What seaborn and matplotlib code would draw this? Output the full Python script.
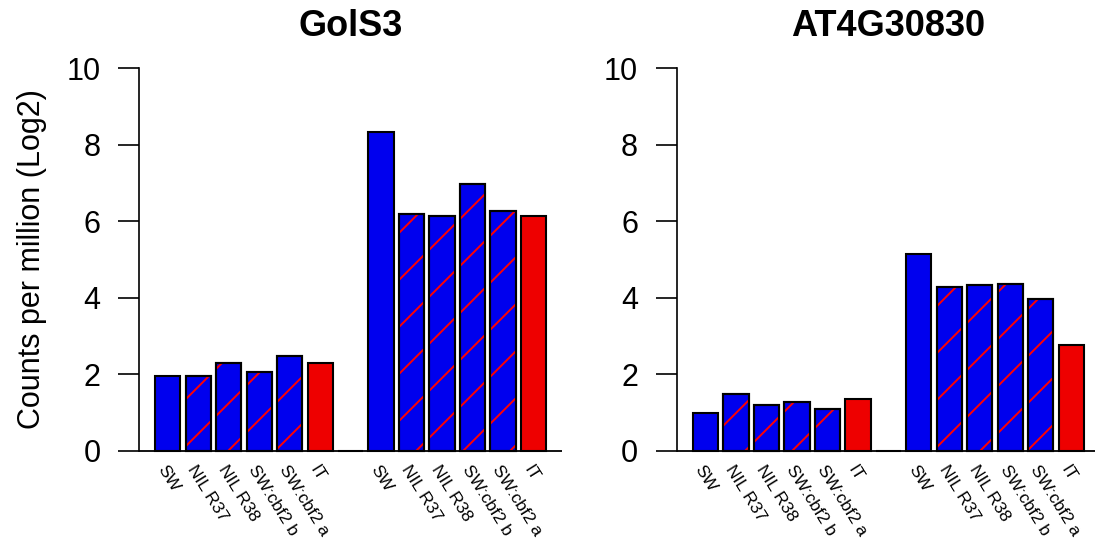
import numpy as np
import pandas as pd
import matplotlib
matplotlib.use("Agg")
import matplotlib.pyplot as plt
import matplotlib.transforms as mtransforms
from matplotlib.lines import Line2D
from matplotlib.patches import Rectangle
import seaborn as sns

# genotypes, shown twice per panel (two conditions)
genotypes = ["SW", "NIL R37", "NIL R38", "SW:cbf2 b", "SW:cbf2 a", "IT"]
hatched = [False, True, True, True, True, False]
fills = ["#0000EE", "#0000EE", "#0000EE", "#0000EE", "#0000EE", "#EE0000"]

# counts per million (log2)
gols3_cond1 = [1.97, 1.97, 2.31, 2.05, 2.47, 2.31]
gols3_cond2 = [8.33, 6.18, 6.14, 6.98, 6.27, 6.14]
at4g_cond1 = [1.00, 1.49, 1.21, 1.27, 1.09, 1.37]
at4g_cond2 = [5.14, 4.27, 4.33, 4.35, 3.98, 2.78]

panels = [("GolS3", gols3_cond1, gols3_cond2),
          ("AT4G30830", at4g_cond1, at4g_cond2)]

sns.set_style("ticks")
plt.rcParams["font.family"] = ["Liberation Sans", "DejaVu Sans"]
plt.rcParams.update({"text.color": "black", "axes.labelcolor": "black",
                     "xtick.color": "black", "ytick.color": "black",
                     "axes.edgecolor": "black"})

W, H = 1095, 538
fig = plt.figure(figsize=(W / 100, H / 100), dpi=100)
ax_w, ax_h = 422.6 / W, 413.6 / H
ax_b = 71.7 / H
axes = [fig.add_axes([139.4 / W, ax_b, ax_w, ax_h]),
        fig.add_axes([677.0 / W, ax_b, ax_w, ax_h])]

labels = genotypes + [""] + genotypes
hatch_flags = hatched + [False] + hatched
colors = fills + ["#FFFFFF"] + fills

for ax, (title, c1, c2) in zip(axes, panels):
    vals = list(c1) + [0.0] + list(c2)
    pos = [str(i) for i in range(len(vals))]
    df = pd.DataFrame({"pos": pos, "cpm": vals})
    sns.barplot(data=df, x="pos", y="cpm", hue="pos", order=pos,
                palette=dict(zip(pos, colors)), legend=False, width=0.833,
                edgecolor="black", linewidth=1.5, saturation=1, ax=ax)
    ax.set_xlim(-0.93, len(vals) - 1 + 0.93)
    ax.set_ylim(-0.4, 10.4)
    ax.set_yticks([0, 2, 4, 6, 8, 10])
    ax.tick_params(axis="y", labelsize=22, length=15, width=1.2, pad=13)
    ax.set_xticks(range(len(vals)))
    ax.set_xticklabels(labels, rotation=-58, ha="left", va="center",
                       rotation_mode="anchor", fontsize=12.5)
    ax.tick_params(axis="x", length=0, pad=0)
    for lab in ax.get_xticklabels():
        lab.set_transform(lab.get_transform() +
                          mtransforms.ScaledTranslation(-5 / 72, 0, fig.dpi_scale_trans))
    sns.despine(ax=ax, bottom=True)
    ax.spines["left"].set_bounds(0, 10)
    ax.spines["left"].set_linewidth(1.2)
    ax.axhline(0, color="black", lw=1.3, zorder=1)
    ax.set_xlabel("")
    ax.set_ylabel("")
    ax.set_title(title, fontsize=26, fontweight="bold", pad=12)

    # red diagonal shading lines on the hatched bars
    for p in list(ax.patches):
        p.set_zorder(2)
        idx = int(round(p.get_x() + p.get_width() / 2))
        if not hatch_flags[idx]:
            continue
        for k in range(-40, 40):
            y0 = k * 47.0
            ln = Line2D([0, W], [y0, y0 + W], color="#FF0000", lw=1.4,
                        transform=mtransforms.IdentityTransform(), zorder=3)
            ln.set_clip_path(mtransforms.TransformedPatchPath(p))
            ax.add_artist(ln)
        ax.add_patch(Rectangle(p.get_xy(), p.get_width(), p.get_height(), fill=False,
                               edgecolor="black", lw=1.5, zorder=4))

axes[0].set_ylabel("Counts per million (Log2)", fontsize=22, labelpad=14)

fig.savefig("out.png", dpi=100)
